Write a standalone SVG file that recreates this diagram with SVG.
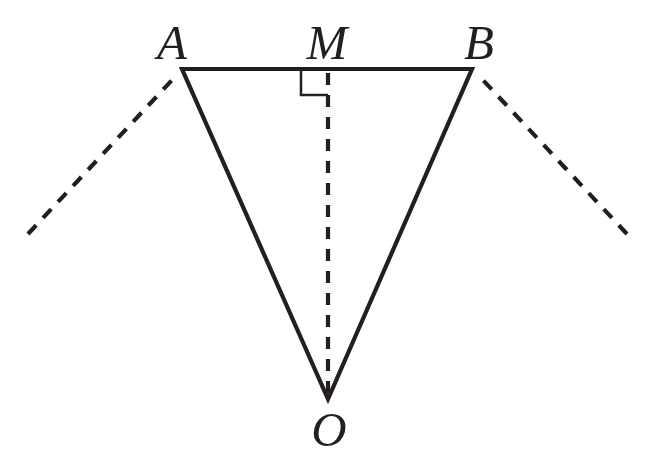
<svg xmlns="http://www.w3.org/2000/svg" width="656" height="470" viewBox="0 0 656 470">
<style>
.s{stroke:#231f20;stroke-width:4.2;fill:none;stroke-linejoin:miter}
.d{stroke:#231f20;stroke-width:4.2;fill:none;stroke-dasharray:12 10}
.t{font-family:"Liberation Serif",serif;font-style:italic;font-size:49px;fill:#231f20;text-anchor:middle}
</style>
<rect width="656" height="470" fill="#fff"/>
<g id="connectors">
<path class="s" d="M182 69 L472 69 L328 399 Z"/>
<line class="d" x1="328" y1="73" x2="328" y2="396"/>
<line class="d" x1="28" y1="234" x2="174" y2="78"/>
<line class="d" x1="627" y1="234" x2="481" y2="78"/>
<path d="M301 69 V95 H328" stroke="#231f20" stroke-width="2.5" fill="none"/>
</g>
<g id="A"><text class="t" x="172" y="59">A</text></g>
<g id="M"><text class="t" x="327" y="59">M</text></g>
<g id="B"><text class="t" x="479" y="59">B</text></g>
<g id="O"><text class="t" x="329" y="446">O</text></g>
</svg>
